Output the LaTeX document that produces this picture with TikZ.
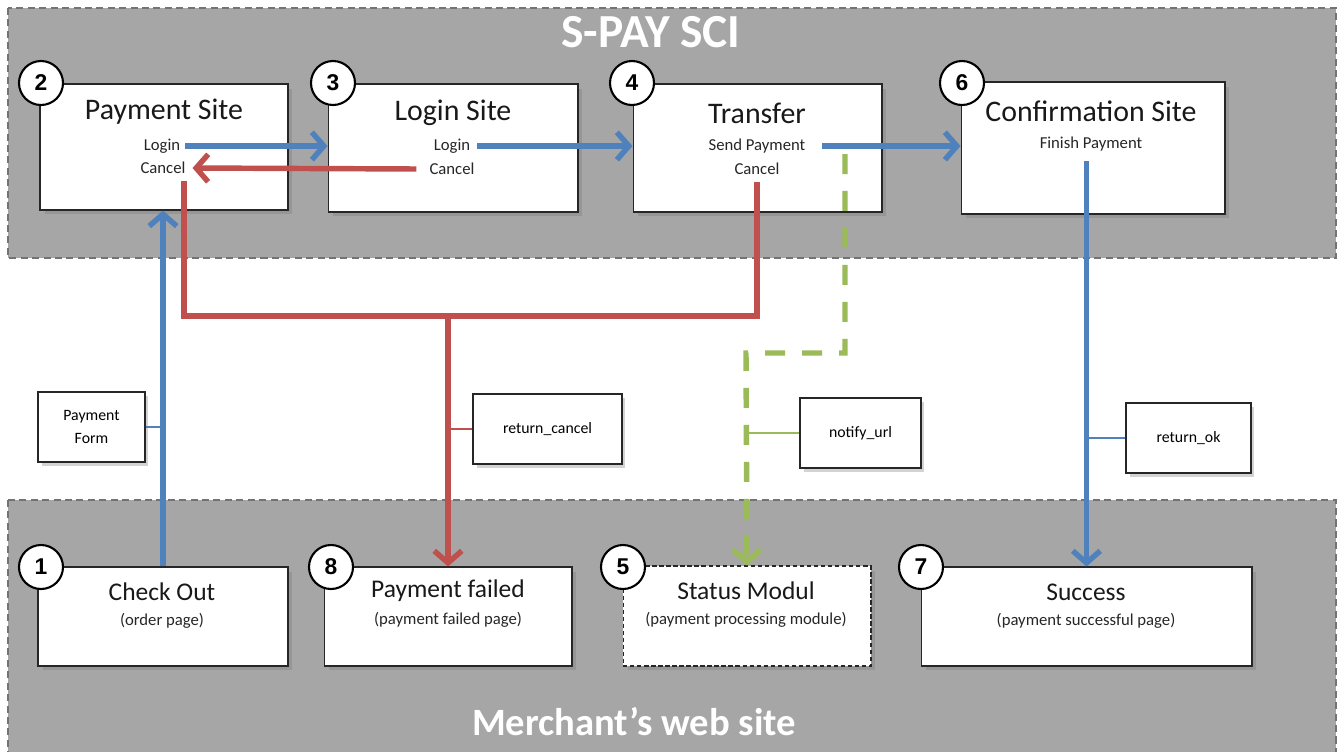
\documentclass[tikz,border=0pt]{standalone}
\usepackage{fontspec}
\setmainfont{Carlito}
\newfontfamily\numfont{Liberation Sans}
\usepackage{xcolor}
\usepackage{tikz}
\usetikzlibrary{
    positioning,
    arrows.meta,
    shadows,
    calc
}
\definecolor{flowblue}{RGB}{79,129,189}
\definecolor{flowred}{RGB}{192,80,77}
\definecolor{flowgreen}{RGB}{155,187,89}
\definecolor{panelgray}{RGB}{166,166,166}
\tikzset{
    panel/.style={
        fill=panelgray, draw=black!55, line width=0.6pt,
        dash pattern=on 4pt off 2.5pt
    },
    paneltitle/.style={
        text=white, font=\bfseries
    },
    sitebox/.style={
        rectangle, draw=black!85, fill=white, line width=0.6pt,
        drop shadow={shadow xshift=0.09cm, shadow yshift=-0.09cm, opacity=0.4}
    },
    numcircle/.style={
        circle, draw=black, fill=white, line width=1.2pt,
        minimum size=0.88cm, inner sep=0pt,
        font=\numfont\bfseries\fontsize{13}{15}\selectfont
    },
    labelbox/.style={
        rectangle, draw=black!85, fill=white, line width=0.6pt,
        minimum height=1.4cm, align=center,
        font=\fontsize{9}{13}\selectfont,
        drop shadow={shadow xshift=0.07cm, shadow yshift=-0.07cm, opacity=0.35}
    }
}

\begin{document}
\begin{tikzpicture}[
        x=0.02cm, y=-0.02cm,
        sitetitle/.style={font=\fontsize{17}{20}\selectfont, text=black!90},
        pagetitle/.style={font=\fontsize{14.5}{17}\selectfont, text=black!90},
        subtext/.style={font=\fontsize{9.5}{11}\selectfont, text=black!85, inner sep=1pt},
        blueflow/.style={draw=flowblue, line width=3.1pt, -{Straight Barb[length=0.24cm, width=0.55cm]}},
        redflow/.style={draw=flowred, line width=3.1pt, -{Straight Barb[length=0.24cm, width=0.55cm]}},
        redline/.style={draw=flowred, line width=3.1pt},
        greenflow/.style={draw=flowgreen, line width=3.1pt, dash pattern=on 0.4cm off 0.34cm, -{Straight Barb[length=0.24cm, width=0.55cm]}},
        thinblue/.style={draw=flowblue, line width=0.9pt},
        thinred/.style={draw=flowred, line width=0.9pt},
        thingreen/.style={draw=flowgreen, line width=0.9pt}
    ]

        \clip (0,0) rectangle (1343,751);

        % Panels
        \draw[panel] (8,8) rectangle (1336,258);
        \draw[panel] (8,500) rectangle (1336,780);
        \node[paneltitle, font=\fontsize{27}{30}\selectfont\bfseries] (spay) at (651,32) {S-PAY SCI};
        \node[paneltitle, font=\fontsize{22}{26}\selectfont\bfseries] (merchant) at (634,722) {Merchant’s web site};

        % S-PAY SCI sites
        \node[sitebox, minimum width=4.96cm, minimum height=2.52cm] (pay) at (164,147) {};
        \node[sitebox, minimum width=5.0cm, minimum height=2.56cm] (login) at (453,148) {};
        \node[sitebox, minimum width=4.98cm, minimum height=2.56cm] (transfer) at (757.5,148) {};
        \node[sitebox, minimum width=5.28cm, minimum height=2.64cm] (confirm) at (1093,148) {};

        \node[sitetitle] (payT) at (164,112) {Payment Site};
        \node[subtext] (payLogin) at (162,146) {Login};
        \node[subtext] (payCancel) at (163,168) {Cancel};
        \node[sitetitle] (loginT) at (453,113) {Login Site};
        \node[subtext] (lgLogin) at (452,146) {Login};
        \node[subtext] (lgCancel) at (452,169) {Cancel};
        \node[sitetitle] (transferT) at (757,113) {Transfer};
        \node[subtext] (sendPay) at (757,146) {Send Payment};
        \node[subtext] (trCancel) at (757,169) {Cancel};
        \node[sitetitle] (confirmT) at (1091,111) {Confirmation Site};
        \node[subtext] (finish) at (1091,144) {Finish Payment};

        % Merchant pages
        \node[sitebox, minimum width=5.0cm, minimum height=1.98cm] (checkout) at (163,616.5) {};
        \node[sitebox, minimum width=4.96cm, minimum height=1.98cm] (failed) at (448,616.5) {};
        \node[sitebox, dash pattern=on 2.5pt off 1.5pt, minimum width=4.96cm, minimum height=2.0cm] (status) at (747,616) {};
        \node[sitebox, minimum width=6.62cm, minimum height=1.98cm] (success) at (1086.5,616.5) {};

        \node[pagetitle] (checkoutT) at (162,592) {Check Out};
        \node[subtext] (checkoutS) at (162,621) {(order page)};
        \node[pagetitle] (failedT) at (448,591) {Payment failed};
        \node[subtext] (failedS) at (448,620) {(payment failed page)};
        \node[pagetitle] (statusT) at (746,591) {Status Modul};
        \node[subtext] (statusS) at (746,620) {(payment processing module)};
        \node[pagetitle] (successT) at (1086,592) {Success};
        \node[subtext] (successS) at (1086,621) {(payment successful page)};

        % Step numbers
        \node[numcircle] (n2) at (41,83) {2};
        \node[numcircle] (n3) at (333,83) {3};
        \node[numcircle] (n4) at (632,83) {4};
        \node[numcircle] (n6) at (962,83) {6};
        \node[numcircle] (n1) at (41,567) {1};
        \node[numcircle] (n8) at (331,567) {8};
        \node[numcircle] (n5) at (623,567) {5};
        \node[numcircle] (n7) at (921,567) {7};

        % Parameter labels
        \node[labelbox, minimum width=2.14cm] (pform) at (91.5,427) {Payment\\Form};
        \node[labelbox, minimum width=2.98cm] (rcancel) at (547.5,429) {return\_cancel};
        \node[labelbox, minimum width=2.42cm] (notify) at (860.5,433) {notify\_url};
        \node[labelbox, minimum width=2.5cm] (rok) at (1188.5,438) {return\_ok};

        % Helper points
        \coordinate (cj) at (448,316);
        \coordinate (nstart) at (845,154);
        \coordinate (nbend) at (746,353);
        \coordinate (okstart) at ($(finish.south -| success.north)+(0,8)$);

        % Cancel paths
        \draw[redline] ([xshift=0.42cm, yshift=-0.1cm]payCancel.south) |- (cj) -| ([yshift=-0.1cm]trCancel.south);
        \draw[redflow] (cj) -- (failed.north);
        \draw[thinred] (rcancel.west) -- (rcancel.west -| cj);
        \draw[redflow] ([xshift=-0.22cm]lgCancel.west) -- ([xshift=0.1cm]payCancel.east);

        % Notify path
        \draw[greenflow] (nstart) |- (nbend) -- (status.north);
        \draw[thingreen] (notify.west) -- (notify.west -| nbend);

        % Main flow
        \draw[blueflow] (checkout.north) -- (checkout.north |- pay.south);
        \draw[thinblue] (pform.east) -- (pform.east -| checkout.north);
        \draw[blueflow] ([xshift=0.06cm]payLogin.east) -- (payLogin.east -| login.west);
        \draw[blueflow] ([xshift=0.1cm]lgLogin.east) -- (lgLogin.east -| transfer.west);
        \draw[blueflow] ([xshift=0.3cm]sendPay.east) -- (sendPay.east -| confirm.west);
        \draw[blueflow] (okstart) -- (success.north);
        \draw[thinblue] (rok.west) -- (rok.west -| success.north);

    \end{tikzpicture}
\end{document}
